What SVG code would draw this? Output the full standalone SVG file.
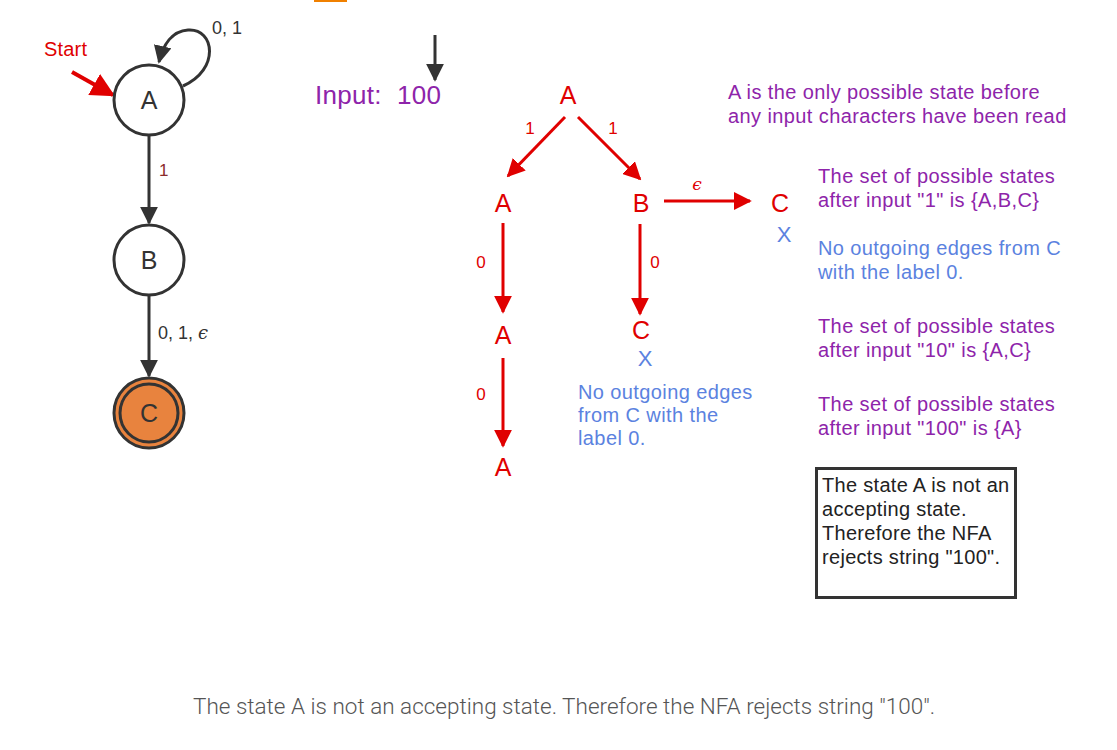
<svg xmlns="http://www.w3.org/2000/svg" width="1117" height="750" viewBox="0 0 1117 750">
<style>
.st{fill:#fff;stroke:#333;stroke-width:3}
.acc{fill:#E8833E;stroke:#333;stroke-width:3}
.lbl{font-family:"Liberation Sans",Arial,sans-serif;fill:#333}
.blk{stroke:#333;stroke-width:3;fill:none}
.red{stroke:#e00000;stroke-width:3;fill:none}
.rt{font-family:"Liberation Sans",Arial,sans-serif;fill:#e00000}
.pt{font-family:"Liberation Sans",Arial,sans-serif;fill:#8e24aa;font-size:20px;letter-spacing:0.4px}
.bt{font-family:"Liberation Sans",Arial,sans-serif;fill:#5b82e0;font-size:20px;letter-spacing:0.4px}
</style>
<defs>
<marker id="ah" viewBox="0 0 10 10" refX="9" refY="5" markerWidth="6" markerHeight="6" markerUnits="strokeWidth" orient="auto"><path d="M0,0L10,5L0,10z" fill="#333"/></marker>
<marker id="rh" viewBox="0 0 10 10" refX="9" refY="5" markerWidth="6" markerHeight="6" markerUnits="strokeWidth" orient="auto"><path d="M0,0L10,5L0,10z" fill="#e00000"/></marker>
</defs>
<rect x="314" y="0" width="33" height="2" fill="#f08000"/>
<g id="connectors">
<path class="blk" d="M183,86 C220,70 215,28 188,30 C172,31 163,45 159,62" marker-end="url(#ah)"/>
<line class="blk" x1="149" y1="135" x2="149" y2="223" marker-end="url(#ah)"/>
<line class="blk" x1="149" y1="295" x2="149" y2="376" marker-end="url(#ah)"/>
<line x1="72" y1="72" x2="113" y2="95" stroke="#e00000" stroke-width="4" marker-end="url(#rh)"/>
<line class="blk" x1="435" y1="35" x2="435" y2="80" marker-end="url(#ah)"/>
<line class="red" x1="565" y1="117" x2="508" y2="176" marker-end="url(#rh)"/>
<line class="red" x1="578" y1="117" x2="640" y2="179" marker-end="url(#rh)"/>
<line class="red" x1="664" y1="201" x2="750" y2="201" marker-end="url(#rh)"/>
<line class="red" x1="503" y1="223" x2="503" y2="312" marker-end="url(#rh)"/>
<line class="red" x1="640" y1="224" x2="640" y2="314" marker-end="url(#rh)"/>
<line class="red" x1="503" y1="358" x2="503" y2="446" marker-end="url(#rh)"/>
</g>
<g id="edge-labels" class="lbl" font-size="18">
<text x="212" y="34">0, 1</text>
<text x="159" y="176" fill="#8b2b2b" font-size="17">1</text>
<text x="158" y="339">0, 1, <tspan font-family="'DejaVu Serif',serif" font-style="italic">ϵ</tspan></text>
</g>
<text x="44" y="56" class="rt" font-size="20" letter-spacing="0.2">Start</text>
<g id="node-A"><circle class="st" cx="149" cy="100" r="35"/><text class="lbl" x="149" y="109" font-size="25" text-anchor="middle">A</text></g>
<g id="node-B"><circle class="st" cx="149" cy="260" r="35"/><text class="lbl" x="149" y="269" font-size="25" text-anchor="middle">B</text></g>
<g id="node-C"><circle class="acc" cx="149" cy="413" r="35"/><circle class="acc" cx="149" cy="413" r="29"/><text class="lbl" x="149" y="422" font-size="25" text-anchor="middle">C</text></g>
<text x="315" y="104" font-family="Liberation Sans,Arial,sans-serif" font-size="26" letter-spacing="0.3" fill="#8e24aa" xml:space="preserve">Input:  100</text>
<g id="tree" class="rt" font-size="25" text-anchor="middle">
<text x="568" y="104">A</text>
<text x="503" y="212">A</text>
<text x="641" y="212">B</text>
<text x="780" y="212">C</text>
<text x="503" y="344">A</text>
<text x="641" y="339">C</text>
<text x="503" y="476">A</text>
</g>
<g class="rt" font-size="17" text-anchor="middle">
<text x="530" y="134">1</text>
<text x="613" y="134">1</text>
<text x="697" y="190" font-family="'DejaVu Serif',serif" font-style="italic">ϵ</text>
<text x="481" y="268">0</text>
<text x="655" y="268">0</text>
<text x="481" y="400">0</text>
</g>
<g font-family="Liberation Sans,Arial,sans-serif" font-size="22" fill="#5b82e0" text-anchor="middle">
<text x="784" y="242">X</text>
<text x="645" y="366">X</text>
</g>
<text class="bt" x="578" y="399">No outgoing edges<tspan x="578" y="422">from C with the</tspan><tspan x="578" y="445">label 0.</tspan></text>
<text class="pt" x="728" y="99">A is the only possible state before<tspan x="728" y="123">any input characters have been read</tspan></text>
<text class="pt" x="818" y="183">The set of possible states<tspan x="818" y="207">after input "1" is {A,B,C}</tspan></text>
<text class="bt" x="818" y="255">No outgoing edges from C<tspan x="818" y="279">with the label 0.</tspan></text>
<text class="pt" x="818" y="333">The set of possible states<tspan x="818" y="357">after input "10" is {A,C}</tspan></text>
<text class="pt" x="818" y="411">The set of possible states<tspan x="818" y="435">after input "100" is {A}</tspan></text>
<g id="result-box">
<rect x="816.5" y="468.5" width="199" height="129" fill="#fff" stroke="#333" stroke-width="3"/>
<text x="822" y="492" font-family="Liberation Sans,Arial,sans-serif" font-size="20" letter-spacing="0.3" fill="#222">The state A is not an<tspan x="822" y="516">accepting state.</tspan><tspan x="822" y="540">Therefore the NFA</tspan><tspan x="822" y="564">rejects string "100".</tspan></text>
</g>
<text x="193" y="714" font-family="Roboto,sans-serif" font-weight="300" font-size="22.5" fill="#555">The state A is not an accepting state. Therefore the NFA rejects string "100".</text>
</svg>
